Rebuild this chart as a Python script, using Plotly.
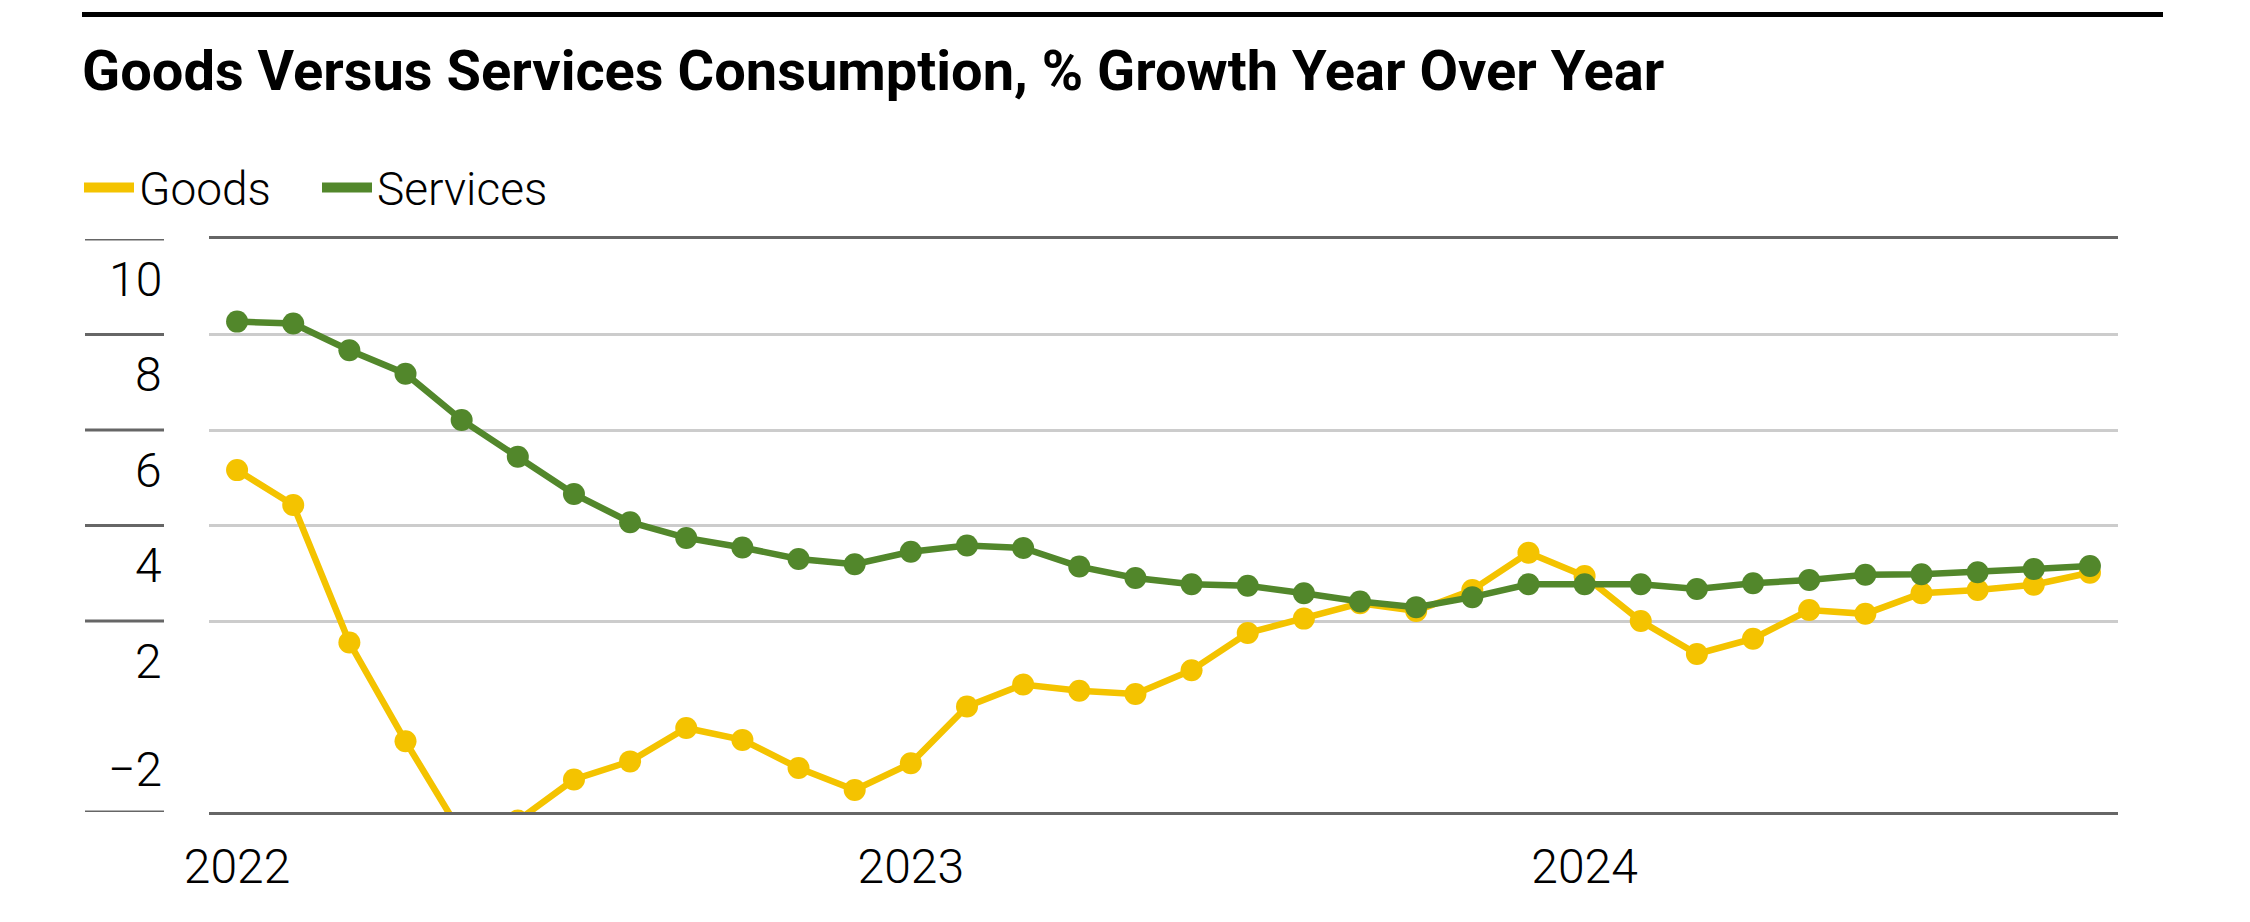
import plotly.graph_objects as go

# ---------------- data ----------------
months = [
    "2022-01", "2022-02", "2022-03", "2022-04", "2022-05", "2022-06",
    "2022-07", "2022-08", "2022-09", "2022-10", "2022-11", "2022-12",
    "2023-01", "2023-02", "2023-03", "2023-04", "2023-05", "2023-06",
    "2023-07", "2023-08", "2023-09", "2023-10", "2023-11", "2023-12",
    "2024-01", "2024-02", "2024-03", "2024-04", "2024-05", "2024-06",
    "2024-07", "2024-08", "2024-09", "2024-10",
]
goods = [
    5.16, 4.43, 1.55, -0.52, -2.46, -2.18, -1.32, -0.94, -0.24, -0.49, -1.08, -1.54,
    -0.98, 0.21, 0.67, 0.54, 0.47, 0.97, 1.75, 2.05, 2.37, 2.21, 2.65, 3.43,
    2.94, 2.00, 1.31, 1.63, 2.23, 2.15, 2.58, 2.65, 2.76, 3.01,
]
services = [
    8.27, 8.23, 7.67, 7.18, 6.21, 5.44, 4.66, 4.07, 3.74, 3.54, 3.30, 3.19,
    3.45, 3.58, 3.53, 3.14, 2.90, 2.77, 2.74, 2.58, 2.41, 2.29, 2.50, 2.77,
    2.77, 2.77, 2.67, 2.79, 2.86, 2.97, 2.98, 3.02, 3.09, 3.15,
]
series_names = ["Goods", "Services"]
year_tick_vals = ["2022-01", "2023-01", "2024-01"]
year_tick_text = ["2022", "2023", "2024"]
y_tick_vals = [10, 8, 6, 4, 2, -2]
y_tick_text = ["10", "8", "6", "4", "2", "\u22122"]
grid_vals = [8, 6, 4, 2]
y_range = [-2, 10]

title_text = "Goods Versus Services Consumption, % Growth Year Over Year"

# ---------------- style ----------------
OFF = 8                      # page body margin
W, H = 2250 - OFF, 922 - OFF
L, R, T, B = 209 - OFF, 132, 237 - OFF, 110
PW, PH = W - L - R, H - T - B
GOLD = "#F4C300"
GREEN = "#52872B"
DARK = "#666666"
LIGHT = "#CCCCCC"
FONT = "Roboto, Liberation Sans, sans-serif"


def px_x(x):
    """page pixel -> paper x"""
    return (x - OFF - L) / PW


def px_y(y):
    """page pixel -> paper y"""
    return (H - B - (y - OFF)) / PH


fig = go.Figure()
for name, vals, col in [(series_names[0], goods, GOLD), (series_names[1], services, GREEN)]:
    fig.add_trace(go.Scatter(
        x=months, y=vals, name=name, mode="lines+markers",
        line=dict(color=col, width=6.5),
        marker=dict(color=col, size=22),
        showlegend=False, legendgroup=name,
    ))
    # legend-only entry (line swatch)
    fig.add_trace(go.Scatter(
        x=[None], y=[None], name=name, mode="lines",
        line=dict(color=col, width=10), legendgroup=name, showlegend=True,
    ))

shapes = []
for v in y_tick_vals:
    shapes.append(dict(type="line", xref="paper", yref="y",
                       x0=px_x(85), x1=px_x(164), y0=v, y1=v,
                       line=dict(color=DARK, width=3)))
shapes.append(dict(type="line", xref="paper", yref="paper",
                   x0=px_x(82), x1=px_x(2163), y0=px_y(11.7), y1=px_y(11.7),
                   line=dict(color="#000000", width=5)))

annotations = []
for v, t in zip(y_tick_vals, y_tick_text):
    annotations.append(dict(
        x=px_x(164), xref="paper", xanchor="right",
        y=v, yref="y", yanchor="middle", yshift=(43 if v < 0 else -40),
        text=t, showarrow=False,
        font=dict(family=FONT, size=48, color="#000000", weight=300),
    ))

fig.update_layout(
    width=W, height=H,
    margin=dict(l=L, r=R, t=T, b=B),
    paper_bgcolor="white", plot_bgcolor="white",
    title=dict(text=title_text, x=(82 - OFF) / W, xanchor="left", xref="container",
               y=1 - (70.5 - OFF) / H, yanchor="middle", yref="container",
               font=dict(family=FONT, size=56, color="#000000", weight="bold")),
    legend=dict(orientation="h", xref="container", yref="container",
                x=(79 - OFF) / W, xanchor="left", y=1 - (187.5 - OFF) / H, yanchor="middle",
                font=dict(family=FONT, size=46, color="#000000", weight=300),
                itemwidth=50, entrywidth=173, traceorder="normal",
                bgcolor="rgba(0,0,0,0)"),
    shapes=shapes,
    annotations=annotations,
    showlegend=True,
)
fig.update_xaxes(
    type="category", categoryorder="array", categoryarray=months,
    range=[-0.5, len(months) - 0.5],
    tickvals=year_tick_vals, ticktext=year_tick_text,
    tickfont=dict(family=FONT, size=48, color="#000000", weight=300),
    showline=True, mirror=True, linecolor=DARK, linewidth=3,
    showgrid=False, ticks="", zeroline=False, ticklabelstandoff=10,
)
fig.update_yaxes(
    range=y_range, tickvals=grid_vals, showticklabels=False,
    showgrid=True, gridcolor=LIGHT, gridwidth=3,
    zeroline=False, showline=False, ticks="",
)

fig.write_html("out.html")
